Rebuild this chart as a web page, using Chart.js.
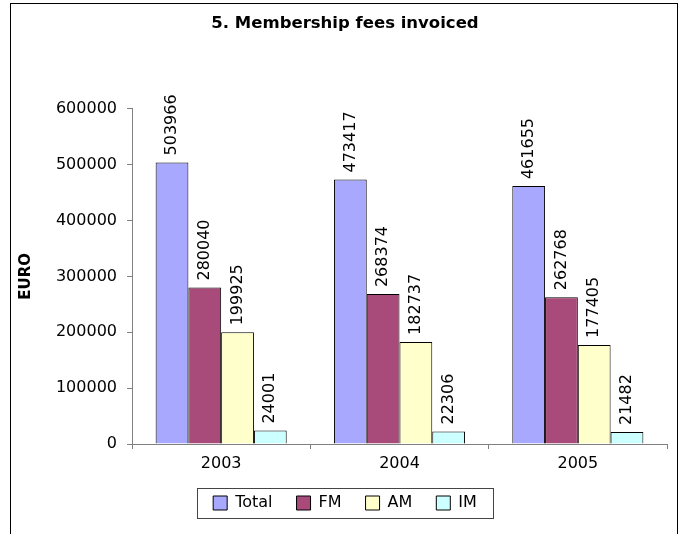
<!DOCTYPE html>
<html>
<head>
<meta charset="utf-8">
<script src="https://cdn.jsdelivr.net/npm/chart.js@4.4.0/dist/chart.umd.min.js"></script>
<style>
html,body{margin:0;padding:0;background:#fff;}
#wrap{width:685px;height:534px;position:relative;}
</style>
</head>
<body>
<div id="wrap"><canvas id="c" width="685" height="534"></canvas></div>
<script>
const categories = ["2003", "2004", "2005"];
const seriesNames = ["Total", "FM", "AM", "IM"];
const totalValues = [503966, 473417, 461655];
const fmValues = [280040, 268374, 262768];
const amValues = [199925, 182737, 177405];
const imValues = [24001, 22306, 21482];
const yTicks = [0, 100000, 200000, 300000, 400000, 500000, 600000];
const colors = ["#A8A8FF", "#A84B7A", "#FFFFCC", "#CCFFFF"];

const FONT = "'DejaVu Sans', Verdana, sans-serif";

const frameAndLabels = {
  id: 'frameAndLabels',
  afterLayout(chart) {
    if (chart.titleBlock) { chart.titleBlock.left += 6; chart.titleBlock.right += 6; }
    if (chart.legend) { chart.legend.left += 6; chart.legend.right += 6; }
  },
  afterDraw(chart) {
    const ctx = chart.ctx;
    ctx.save();
    ctx.strokeStyle = '#000';
    ctx.lineWidth = 1;
    ctx.strokeRect(10.5, 3.5, 667, 540);
    ctx.font = '16px ' + FONT;
    ctx.fillStyle = '#000';
    ctx.textAlign = 'left';
    ctx.textBaseline = 'middle';
    chart.data.datasets.forEach((ds, di) => {
      const meta = chart.getDatasetMeta(di);
      meta.data.forEach((bar, i) => {
        ctx.save();
        ctx.translate(bar.x, bar.y - 7);
        ctx.rotate(-Math.PI / 2);
        ctx.fillText(String(ds.data[i]), 0, 0);
        ctx.restore();
      });
    });
    const lg = chart.legend;
    if (lg && lg.legendHitBoxes && lg.legendHitBoxes.length) {
      const hb = lg.legendHitBoxes;
      let minX = Infinity, maxX = -Infinity, cy = 0;
      hb.forEach(h => { minX = Math.min(minX, h.left); maxX = Math.max(maxX, h.left + h.width); cy = h.top + h.height / 2; });
      ctx.strokeStyle = '#444';
      ctx.strokeRect(Math.round(minX - 16) + 0.5, Math.round(cy - 15) + 0.5, Math.round(maxX - minX + 32), 30);
    }
    ctx.restore();
  }
};

new Chart(document.getElementById('c'), {
  type: 'bar',
  data: {
    labels: categories,
    datasets: [
      { label: seriesNames[0], data: totalValues, backgroundColor: colors[0] },
      { label: seriesNames[1], data: fmValues, backgroundColor: colors[1] },
      { label: seriesNames[2], data: amValues, backgroundColor: colors[2] },
      { label: seriesNames[3], data: imValues, backgroundColor: colors[3] }
    ].map(d => Object.assign(d, { borderColor: '#000', borderWidth: 1, categoryPercentage: 0.735, barPercentage: 1 }))
  },
  options: {
    responsive: false,
    animation: false,
    devicePixelRatio: 1,
    layout: { padding: { left: 11, right: 18, top: 0, bottom: 13 } },
    plugins: {
      title: {
        display: true,
        text: '5. Membership fees invoiced',
        color: '#000',
        font: { family: FONT, size: 16.5, weight: 'bold' },
        padding: { top: 14, bottom: 75 }
      },
      legend: {
        position: 'bottom',
        labels: {
          color: '#000',
          font: { family: FONT, size: 16 },
          boxWidth: 14,
          boxHeight: 14,
          padding: 24,
          generateLabels(chart) {
            return chart.data.datasets.map((ds, i) => ({
              text: ds.label, fillStyle: ds.backgroundColor, strokeStyle: '#000', lineWidth: 1,
              fontColor: '#000', datasetIndex: i, hidden: false
            }));
          }
        }
      },
      tooltip: { enabled: false }
    },
    scales: {
      x: {
        afterFit(scale) { scale.height = 27; },
        grid: { display: true, drawOnChartArea: false, offset: true, color: '#808080', tickLength: 5 },
        border: { color: '#808080' },
        ticks: { color: '#000', font: { family: FONT, size: 16 }, padding: 5 }
      },
      y: {
        min: 0, max: 600000,
        afterBuildTicks(scale) { scale.ticks = yTicks.map(v => ({ value: v })); },
        afterFit(scale) { scale.width = 121; },
        grid: { display: true, drawOnChartArea: false, color: '#808080', tickLength: 5 },
        border: { color: '#808080' },
        ticks: { color: '#000', font: { family: FONT, size: 16 }, padding: 10, callback: v => String(v) },
        title: { display: true, text: 'EURO', color: '#000', font: { family: FONT, size: 15, weight: 'bold' }, padding: { top: 6, bottom: 0 } }
      }
    }
  },
  plugins: [frameAndLabels]
});
</script>
</body>
</html>
